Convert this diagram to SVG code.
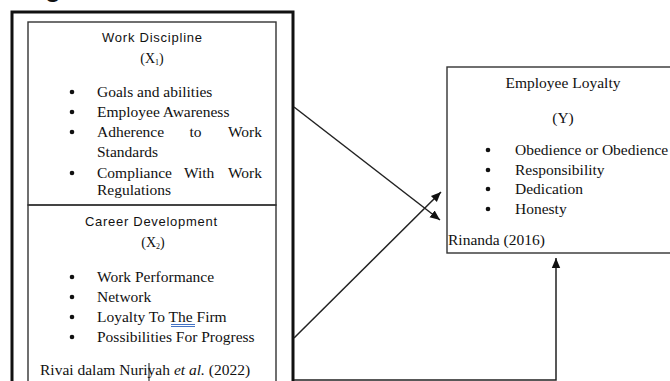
<svg xmlns="http://www.w3.org/2000/svg" width="670" height="381" viewBox="0 0 670 381">
<defs>
<style>
.serif{font-family:"Liberation Serif","Times New Roman",serif;font-size:15.5px;fill:#111}
.sans{font-family:"Liberation Sans",Arial,sans-serif;font-size:13px;fill:#111}
.box{fill:none;stroke:#333;stroke-width:1.4}
.frame{fill:none;stroke:#111;stroke-width:3}
.conn{fill:none;stroke:#222;stroke-width:1.5}
.dot{fill:#111}
</style>
<marker id="arr" markerUnits="userSpaceOnUse" markerWidth="10" markerHeight="10" viewBox="0 0 10 10" refX="10" refY="5" orient="auto">
<path d="M0,0.8 L10,5 L0,9.2 Z" fill="#111"/>
</marker>
</defs>
<rect width="670" height="381" fill="#fff"/>
<text x="45" y="-3.5" style="font-family:'Liberation Sans',Arial,sans-serif;font-size:26px;font-weight:bold;fill:#111">g</text>
<g id="outer-frame">
<rect class="frame" x="12" y="12" width="281" height="390"/>
</g>
<g id="node-x1">
<rect class="box" x="28" y="22" width="248" height="183"/>
<text class="sans" x="152" y="42" text-anchor="middle" textLength="100" lengthAdjust="spacing">Work Discipline</text>
<text class="serif" x="152" y="63" text-anchor="middle" style="font-size:14px">(X<tspan style="font-size:8px" dy="2">1</tspan><tspan dy="-2">)</tspan></text>
<circle class="dot" cx="72" cy="92" r="2.3"/>
<text class="serif" x="97" y="97">Goals and abilities</text>
<circle class="dot" cx="72" cy="112" r="2.3"/>
<text class="serif" x="97" y="117">Employee Awareness</text>
<circle class="dot" cx="72" cy="132" r="2.3"/>
<text class="serif" x="97" y="137">Adherence</text>
<text class="serif" x="195.5" y="137" text-anchor="middle">to</text>
<text class="serif" x="262" y="137" text-anchor="end">Work</text>
<text class="serif" x="97" y="157">Standards</text>
<circle class="dot" cx="72" cy="173" r="2.3"/>
<text class="serif" x="97" y="178">Compliance</text>
<text class="serif" x="184" y="178">With</text>
<text class="serif" x="262" y="178" text-anchor="end">Work</text>
<text class="serif" x="97" y="195">Regulations</text>
</g>
<g id="node-x2">
<rect class="box" x="28" y="205" width="248" height="200"/>
<text class="sans" x="151" y="226" text-anchor="middle" textLength="132" lengthAdjust="spacing">Career Development</text>
<text class="serif" x="153" y="247" text-anchor="middle" style="font-size:14px">(X<tspan style="font-size:8px" dy="2">2</tspan><tspan dy="-2">)</tspan></text>
<circle class="dot" cx="72" cy="277" r="2.3"/>
<text class="serif" x="97" y="282">Work Performance</text>
<circle class="dot" cx="72" cy="297" r="2.3"/>
<text class="serif" x="97" y="302">Network</text>
<circle class="dot" cx="72" cy="317" r="2.3"/>
<text class="serif" x="97" y="322">Loyalty To The Firm</text>
<line x1="171" y1="324.5" x2="195" y2="324.5" stroke="#4472c4" stroke-width="1"/>
<line x1="171" y1="326.5" x2="195" y2="326.5" stroke="#4472c4" stroke-width="1"/>
<circle class="dot" cx="72" cy="337" r="2.3"/>
<text class="serif" x="97" y="342">Possibilities For Progress</text>
<text class="serif" x="40" y="375">Rivai dalam Nuriyah <tspan font-style="italic">et al.</tspan> (2022)</text>
<line x1="149" y1="363" x2="149" y2="381" stroke="#111" stroke-width="1"/>
</g>
<g id="node-y">
<rect class="box" x="447" y="67" width="240" height="186"/>
<text class="serif" x="563" y="88" text-anchor="middle">Employee Loyalty</text>
<text class="serif" x="563" y="123" text-anchor="middle">(Y)</text>
<circle class="dot" cx="488" cy="150" r="2.3"/>
<text class="serif" x="515" y="155">Obedience or Obedience</text>
<circle class="dot" cx="488" cy="170" r="2.3"/>
<text class="serif" x="515" y="175">Responsibility</text>
<circle class="dot" cx="488" cy="189" r="2.3"/>
<text class="serif" x="515" y="194">Dedication</text>
<circle class="dot" cx="488" cy="209" r="2.3"/>
<text class="serif" x="515" y="214">Honesty</text>
<text class="serif" x="448" y="245">Rinanda (2016)</text>
</g>
<g id="connectors">
<line class="conn" x1="294" y1="107" x2="440" y2="220" marker-end="url(#arr)"/>
<line class="conn" x1="294" y1="338" x2="441" y2="192" marker-end="url(#arr)"/>
<path class="conn" d="M294,380 H556 V258" marker-end="url(#arr)"/>
</g>
</svg>
